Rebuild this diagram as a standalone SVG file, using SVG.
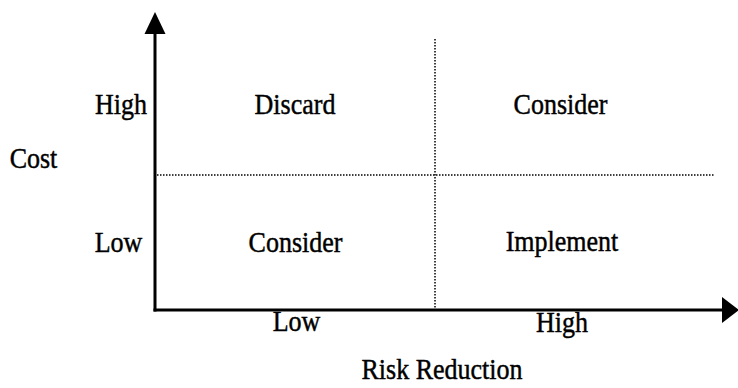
<svg xmlns="http://www.w3.org/2000/svg" width="738" height="388" viewBox="0 0 738 388">
  <style>
    .lbl { font-family: "Liberation Serif", "Times New Roman", serif; font-size: 26px; fill: #000; stroke: #000; stroke-width: 0.4; text-anchor: middle; }
    .axis { stroke: #000; stroke-width: 3; fill: none; }
    .grid { stroke: #000; stroke-width: 1.5; stroke-dasharray: 1.5 1.5; fill: none; }
    .head { fill: #000; stroke: none; }
  </style>

  <!-- quadrant dividers and axes -->
  <g id="connectors">
    <line class="grid" x1="157" y1="175" x2="715" y2="175"/>
    <line class="grid" x1="435" y1="39" x2="435" y2="308"/>
    <line class="axis" x1="155" y1="311.5" x2="155" y2="30"/>
    <line class="axis" x1="153.5" y1="310" x2="726" y2="310"/>
    <polygon class="head" points="155,12 144.5,34 165.5,34"/>
    <polygon class="head" points="739,310 722,297 722,323"/>
  </g>

  <!-- axis titles -->
  <g id="axis-cost">
    <text class="lbl" transform="translate(33.5,168) scale(1,1.13)">Cost</text>
  </g>
  <g id="axis-risk">
    <text class="lbl" transform="translate(442,379) scale(1,1.13)">Risk Reduction</text>
  </g>

  <!-- tick labels -->
  <g id="cost-high">
    <text class="lbl" transform="translate(121,114) scale(1,1.13)">High</text>
  </g>
  <g id="cost-low">
    <text class="lbl" transform="translate(118.5,252) scale(1,1.13)">Low</text>
  </g>
  <g id="risk-low">
    <text class="lbl" transform="translate(296.5,331) scale(1,1.13)">Low</text>
  </g>
  <g id="risk-high">
    <text class="lbl" transform="translate(562,332) scale(1,1.13)">High</text>
  </g>

  <!-- quadrant labels -->
  <g id="q-discard">
    <text class="lbl" transform="translate(295,114) scale(1,1.13)">Discard</text>
  </g>
  <g id="q-consider-high">
    <text class="lbl" transform="translate(560.5,114) scale(1,1.13)">Consider</text>
  </g>
  <g id="q-consider-low">
    <text class="lbl" transform="translate(295.5,252) scale(1,1.13)">Consider</text>
  </g>
  <g id="q-implement">
    <text class="lbl" transform="translate(562,251) scale(1,1.13)">Implement</text>
  </g>
</svg>
